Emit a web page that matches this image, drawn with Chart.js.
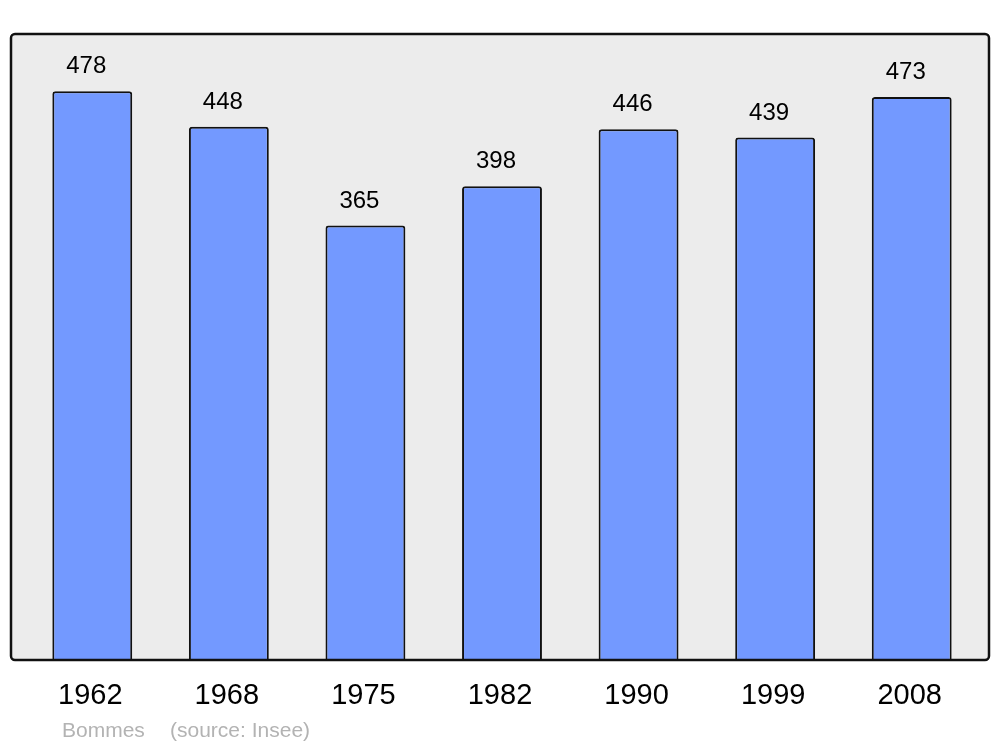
<!DOCTYPE html>
<html>
<head>
<meta charset="utf-8">
<script src="https://cdn.jsdelivr.net/npm/chart.js@4"></script>
<style>
  html, body { margin: 0; padding: 0; background: #ffffff; }
  #wrap { width: 1000px; height: 747px; }
</style>
</head>
<body>
<div id="wrap"><canvas id="popChart"></canvas></div>
<script>
const years = ["1962", "1968", "1975", "1982", "1990", "1999", "2008"];
const population = [478, 448, 365, 398, 446, 439, 473];
const yMax = 526;
const footerText = ["Bommes", "(source: Insee)"];

function roundRect(ctx, x, y, w, h, r) {
  ctx.beginPath();
  ctx.moveTo(x + r, y);
  ctx.lineTo(x + w - r, y);
  ctx.arcTo(x + w, y, x + w, y + r, r);
  ctx.lineTo(x + w, y + h - r);
  ctx.arcTo(x + w, y + h, x + w - r, y + h, r);
  ctx.lineTo(x + r, y + h);
  ctx.arcTo(x, y + h, x, y + h - r, r);
  ctx.lineTo(x, y + r);
  ctx.arcTo(x, y, x + r, y, r);
  ctx.closePath();
}

function boxRect(chart) {
  const a = chart.chartArea;
  return { x: a.left - 13, y: a.top, w: (a.right + 9) - (a.left - 13), h: a.bottom - a.top };
}

const frame = {
  id: "frame",
  beforeDatasetsDraw: (chart) => {
    const { ctx } = chart;
    const b = boxRect(chart);
    ctx.save();
    roundRect(ctx, b.x, b.y, b.w, b.h, 4);
    ctx.fillStyle = "#ececec";
    ctx.fill();
    ctx.restore();
  },
  afterDatasetsDraw: (chart) => {
    const { ctx } = chart;
    const b = boxRect(chart);
    ctx.save();
    roundRect(ctx, b.x, b.y, b.w, b.h, 4);
    ctx.lineWidth = 2.5;
    ctx.strokeStyle = "#111111";
    ctx.stroke();

    // value labels above bars
    const meta = chart.getDatasetMeta(0);
    ctx.fillStyle = "#000000";
    ctx.textAlign = "center";
    ctx.textBaseline = "alphabetic";
    ctx.font = "24px 'Liberation Sans', Arial, sans-serif";
    meta.data.forEach((bar, i) => {
      ctx.fillText(String(population[i]), bar.x - 6, bar.y - 18);
    });

    // year labels
    const xs = chart.scales.x;
    ctx.font = "29px 'Liberation Sans', Arial, sans-serif";
    ctx.textBaseline = "middle";
    years.forEach((y, i) => {
      ctx.fillText(y, xs.getPixelForValue(i) - 2, chart.chartArea.bottom + 36);
    });

    // footer
    ctx.fillStyle = "#b3b3b3";
    ctx.textAlign = "left";
    ctx.font = "21px 'Liberation Sans', Arial, sans-serif";
    ctx.fillText(footerText[0], 62, chart.chartArea.bottom + 71);
    ctx.fillText(footerText[1], 170, chart.chartArea.bottom + 71);
    ctx.restore();
  },
};

new Chart(document.getElementById("popChart"), {
  type: "bar",
  data: {
    labels: years,
    datasets: [
      {
        data: population,
        backgroundColor: "#7399ff",
        borderColor: "#111111",
        borderWidth: 2,
        borderRadius: { topLeft: 3, topRight: 3, bottomLeft: 0, bottomRight: 0 },
        borderSkipped: "bottom",
        barPercentage: 0.585,
        categoryPercentage: 1,
      },
    ],
  },
  options: {
    responsive: true,
    maintainAspectRatio: false,
    animation: false,
    layout: {
      padding: { left: 24, right: 20, top: 34, bottom: 87 },
    },
    plugins: {
      legend: { display: false },
      tooltip: { enabled: false },
    },
    scales: {
      x: { display: false },
      y: { display: false, min: 0, max: yMax },
    },
  },
  plugins: [frame],
});
</script>
</body>
</html>
